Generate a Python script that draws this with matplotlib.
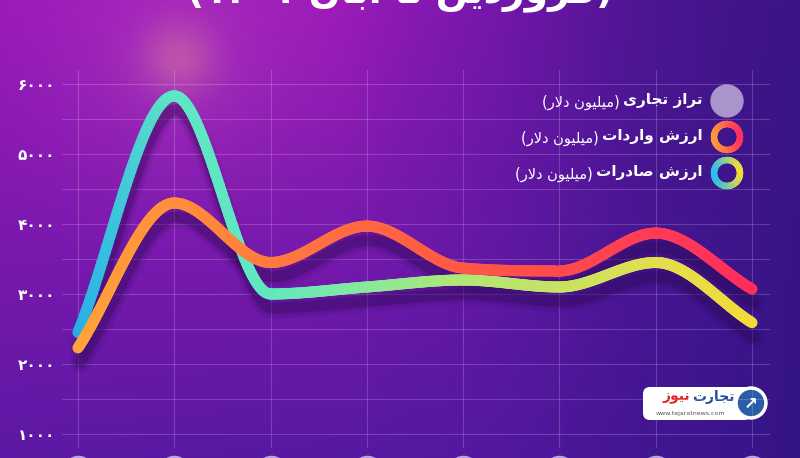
import re
import numpy as np
import matplotlib
matplotlib.use("Agg")
import matplotlib.pyplot as plt
import matplotlib.transforms as mtransforms
from matplotlib.collections import LineCollection
from matplotlib.colors import to_rgb
from matplotlib.patches import FancyBboxPatch, Circle

# data
months = [0, 1, 2, 3, 4, 5, 6, 7]
exports = [2450, 5830, 3000, 3100, 3200, 3100, 3450, 2590]
imports = [2230, 4300, 3450, 3970, 3370, 3330, 3870, 3070]
y_ticks = [1000, 2000, 3000, 4000, 5000, 6000]
y_tick_labels = ["۱۰۰۰", "۲۰۰۰", "۳۰۰۰", "۴۰۰۰", "۵۰۰۰", "۶۰۰۰"]
legend_names = ["تراز تجاری", "ارزش واردات", "ارزش صادرات"]
unit_text = "(میلیون دلار)"
title_text = "(فروردین تا آبان ۱۴۰۱)"

export_colors = ["#27aee8", "#5fe6c6", "#60e8bf", "#88e89c", "#b0e677", "#c6e364", "#e0df4e", "#f4d93a"]
import_colors = ["#ffa43a", "#ff8e3c", "#ff7c3e", "#ff6842", "#ff5847", "#ff4b4c", "#ff3c55", "#ff2e5c"]

# --- small persian shaper (matplotlib does no arabic shaping) ---
FORMS = {
    "ا": ("\uFE8D", "\uFE8E", None, None),
    "آ": ("\uFE81", "\uFE82", None, None),
    "ب": ("\uFE8F", "\uFE90", "\uFE91", "\uFE92"),
    "ت": ("\uFE95", "\uFE96", "\uFE97", "\uFE98"),
    "ج": ("\uFE9D", "\uFE9E", "\uFE9F", "\uFEA0"),
    "د": ("\uFEA9", "\uFEAA", None, None),
    "ر": ("\uFEAD", "\uFEAE", None, None),
    "ز": ("\uFEAF", "\uFEB0", None, None),
    "ش": ("\uFEB5", "\uFEB6", "\uFEB7", "\uFEB8"),
    "ص": ("\uFEB9", "\uFEBA", "\uFEBB", "\uFEBC"),
    "ف": ("\uFED1", "\uFED2", "\uFED3", "\uFED4"),
    "ل": ("\uFEDD", "\uFEDE", "\uFEDF", "\uFEE0"),
    "م": ("\uFEE1", "\uFEE2", "\uFEE3", "\uFEE4"),
    "ن": ("\uFEE5", "\uFEE6", "\uFEE7", "\uFEE8"),
    "و": ("\uFEED", "\uFEEE", None, None),
    "ی": ("\uFBFC", "\uFBFD", "\uFBFE", "\uFBFF"),
}


def dual(c):
    return c in FORMS and FORMS[c][2] is not None


def shape(text):
    out = []
    i = 0
    while i < len(text):
        c = text[i]
        if c not in FORMS:
            out.append(c)
            i += 1
            continue
        jp = i > 0 and dual(text[i - 1])
        if c == "ل" and i + 1 < len(text) and text[i + 1] in "اآ":
            lig = ("\uFEFB", "\uFEFC") if text[i + 1] == "ا" else ("\uFEF5", "\uFEF6")
            out.append(lig[1] if jp else lig[0])
            i += 2
            continue
        jn = dual(c) and i + 1 < len(text) and text[i + 1] in FORMS
        iso, fin, ini, med = FORMS[c]
        out.append(med if jp and jn else fin if jp else ini if jn else iso)
        i += 1
    return "".join(out)


def fa(text):
    s = shape(text)[::-1]
    s = s.translate(str.maketrans("()", ")("))
    return re.sub(r"[0-9۰-۹]+", lambda m: m.group(0)[::-1], s)


def monotone(xs, ys, n=60):
    # chart.js style monotone cubic
    xs = np.asarray(xs, float)
    ys = np.asarray(ys, float)
    h = np.diff(xs)
    s = np.diff(ys) / h
    m = np.zeros(len(xs))
    m[0], m[-1] = s[0], s[-1]
    for i in range(1, len(xs) - 1):
        if s[i - 1] * s[i] > 0:
            m[i] = (s[i - 1] + s[i]) / 2
    for i in range(len(s)):
        if s[i] == 0:
            m[i] = m[i + 1] = 0
            continue
        a, b = m[i] / s[i], m[i + 1] / s[i]
        sq = a * a + b * b
        if sq > 9:
            tau = 3 / np.sqrt(sq)
            m[i], m[i + 1] = tau * a * s[i], tau * b * s[i]
    fx, fy = [], []
    for i in range(len(xs) - 1):
        t = np.linspace(0, 1, n, endpoint=(i == len(xs) - 2))
        h00 = 2 * t**3 - 3 * t**2 + 1
        h10 = t**3 - 2 * t**2 + t
        h01 = -2 * t**3 + 3 * t**2
        h11 = t**3 - t**2
        fx.append(xs[i] + t * h[i])
        fy.append(h00 * ys[i] + h10 * h[i] * m[i] + h01 * ys[i + 1] + h11 * h[i] * m[i + 1])
    return np.concatenate(fx), np.concatenate(fy)


def colors_along(xf, stops):
    rgb = np.array([to_rgb(c) for c in stops])
    return np.column_stack([np.interp(xf, months, rgb[:, k]) for k in range(3)])


fig = plt.figure(figsize=(8, 4.58), dpi=100)

# background in pixel coords
bg = fig.add_axes([0, 0, 1, 1])
bg.set_xlim(0, 800)
bg.set_ylim(458, 0)
bg.axis("off")
W, H = 800, 458
gx = np.linspace(0, 1, W)
gy = np.linspace(0, 1, H)[:, None, None]
top = np.array([to_rgb(c) for c in ["#9c19ba", "#9c1ab9", "#7417aa", "#4e1594", "#3a1584"]])
bot = np.array([to_rgb(c) for c in ["#5c18a4", "#5718a2", "#5318a0", "#431693", "#341486"]])
pos = [0, 0.42, 0.62, 0.8, 1.0]
top_row = np.column_stack([np.interp(gx, pos, top[:, k]) for k in range(3)])
bot_row = np.column_stack([np.interp(gx, pos, bot[:, k]) for k in range(3)])
img = top_row[None] * (1 - gy) + bot_row[None] * gy
# pink glow above the peak
X, Y = np.meshgrid(np.arange(W), np.arange(H))
d2 = (X - 178) ** 2 + (Y - 58) ** 2
core = np.exp(-d2 / (2 * 26**2))[..., None] * 0.35
halo = np.exp(-d2 / (2 * 85**2))[..., None] * 0.22
img = img * (1 - halo) + np.array(to_rgb("#d060c8")) * halo
img = img * (1 - core) + np.array(to_rgb("#f0a090")) * core
bg.imshow(np.clip(img, 0, 1), extent=(0, 800, 458, 0), aspect="auto", zorder=0)

# main chart axes
ax = fig.add_axes([62 / 800, 10 / 458, 708 / 800, 378 / 458])
ax.patch.set_alpha(0)
ax.set_xlim(-0.166, 7.187)
ax.set_ylim(800, 6200)
for sp in ax.spines.values():
    sp.set_visible(False)
ax.set_xticks(months)
ax.set_xticklabels([])
ax.set_yticks(y_ticks)
ax.set_yticklabels(y_tick_labels, color="white", fontsize=11, fontweight="bold", family="DejaVu Sans")
ax.set_yticks(np.arange(1000, 6001, 500), minor=True)
ax.tick_params(which="both", length=0, pad=5)
ax.grid(which="both", color="white", alpha=0.18, lw=0.8)

lw = 8
shadow = ax.transData + mtransforms.ScaledTranslation(2 / 100, -14 / 100, fig.dpi_scale_trans)
for series, stops in [(exports, export_colors), (imports, import_colors)]:
    fx, fy = monotone(months, series)
    for w, a in [(lw + 8, 0.08), (lw + 4, 0.13), (lw, 0.3)]:
        ax.plot(fx, fy, color="#2a0850", lw=w, alpha=a, transform=shadow,
                solid_capstyle="round", zorder=2)
    pts = np.column_stack([fx, fy])
    segs = np.stack([pts[:-1], pts[1:]], axis=1)
    cols = colors_along((fx[:-1] + fx[1:]) / 2, stops)
    lc = LineCollection(segs, colors=cols, linewidths=lw, capstyle="round", joinstyle="round", zorder=3)
    ax.add_collection(lc)

# category markers along the bottom edge
ax.scatter(months, [470] * len(months), s=470, color="#b9a3dc", clip_on=False, zorder=1)

# legend
fig.canvas.draw()
rend = fig.canvas.get_renderer()
leg_y = [101, 137, 173]
for k, name in enumerate(legend_names):
    yy = leg_y[k]
    t = bg.text(703, yy, fa(name), color="white", fontsize=11, fontweight="bold",
                ha="right", va="center", family="DejaVu Sans")
    wb = t.get_window_extent(rend).width
    bg.text(703 - wb - 4, yy + 1, fa(unit_text), color="white", fontsize=10.5,
            ha="right", va="center", family="DejaVu Sans")
    if k == 0:
        bg.add_patch(Circle((727, yy), 16, color="#a994cc", zorder=3))
    else:
        ends = [("#ff9a3a", "#ff3060"), ("#2bc0e8", "#f0dc3a")][k - 1]
        th = np.linspace(0, 2 * np.pi, 120)
        rx, ry = 727 + 13 * np.cos(th), yy + 13 * np.sin(th)
        rp = np.column_stack([rx, ry])
        rs = np.stack([rp[:-1], rp[1:]], axis=1)
        tt = (rx[:-1] - 714) / 26
        c0, c1 = np.array(to_rgb(ends[0])), np.array(to_rgb(ends[1]))
        rc = c0[None] * (1 - tt[:, None]) + c1[None] * tt[:, None]
        bg.add_collection(LineCollection(rs, colors=rc, linewidths=4.6, capstyle="round", zorder=3))

# logo box
bg.add_patch(FancyBboxPatch((643, 387), 108, 33, boxstyle="round,pad=0,rounding_size=7",
                            fc="white", ec="none", zorder=4))
bg.add_patch(Circle((751, 403), 16, color="white", zorder=4))
bg.add_patch(Circle((751, 403), 12.5, color="#2a5ca8", zorder=5))
bg.text(751, 404, "↗", color="white", fontsize=12, fontweight="bold", ha="center", va="center", zorder=6)
t1 = bg.text(735, 397, fa("تجارت"), color="#1e4f9c", fontsize=10, fontweight="bold",
             ha="right", va="center", family="DejaVu Sans", zorder=6)
w1 = t1.get_window_extent(rend).width
bg.text(735 - w1 - 2, 397, fa("نیوز"), color="#e3202a", fontsize=10, fontweight="bold",
        ha="right", va="center", family="DejaVu Sans", zorder=6)
bg.text(690, 413, "www.tejaratnews.com", color="#555555", fontsize=4.5, ha="center", va="center", zorder=6)

# title, mostly cut off at the top
bg.text(400, -11, fa(title_text), color="white", fontsize=27, fontweight="bold",
        ha="center", va="center", family="DejaVu Sans")

fig.savefig("out.png", dpi=100)
